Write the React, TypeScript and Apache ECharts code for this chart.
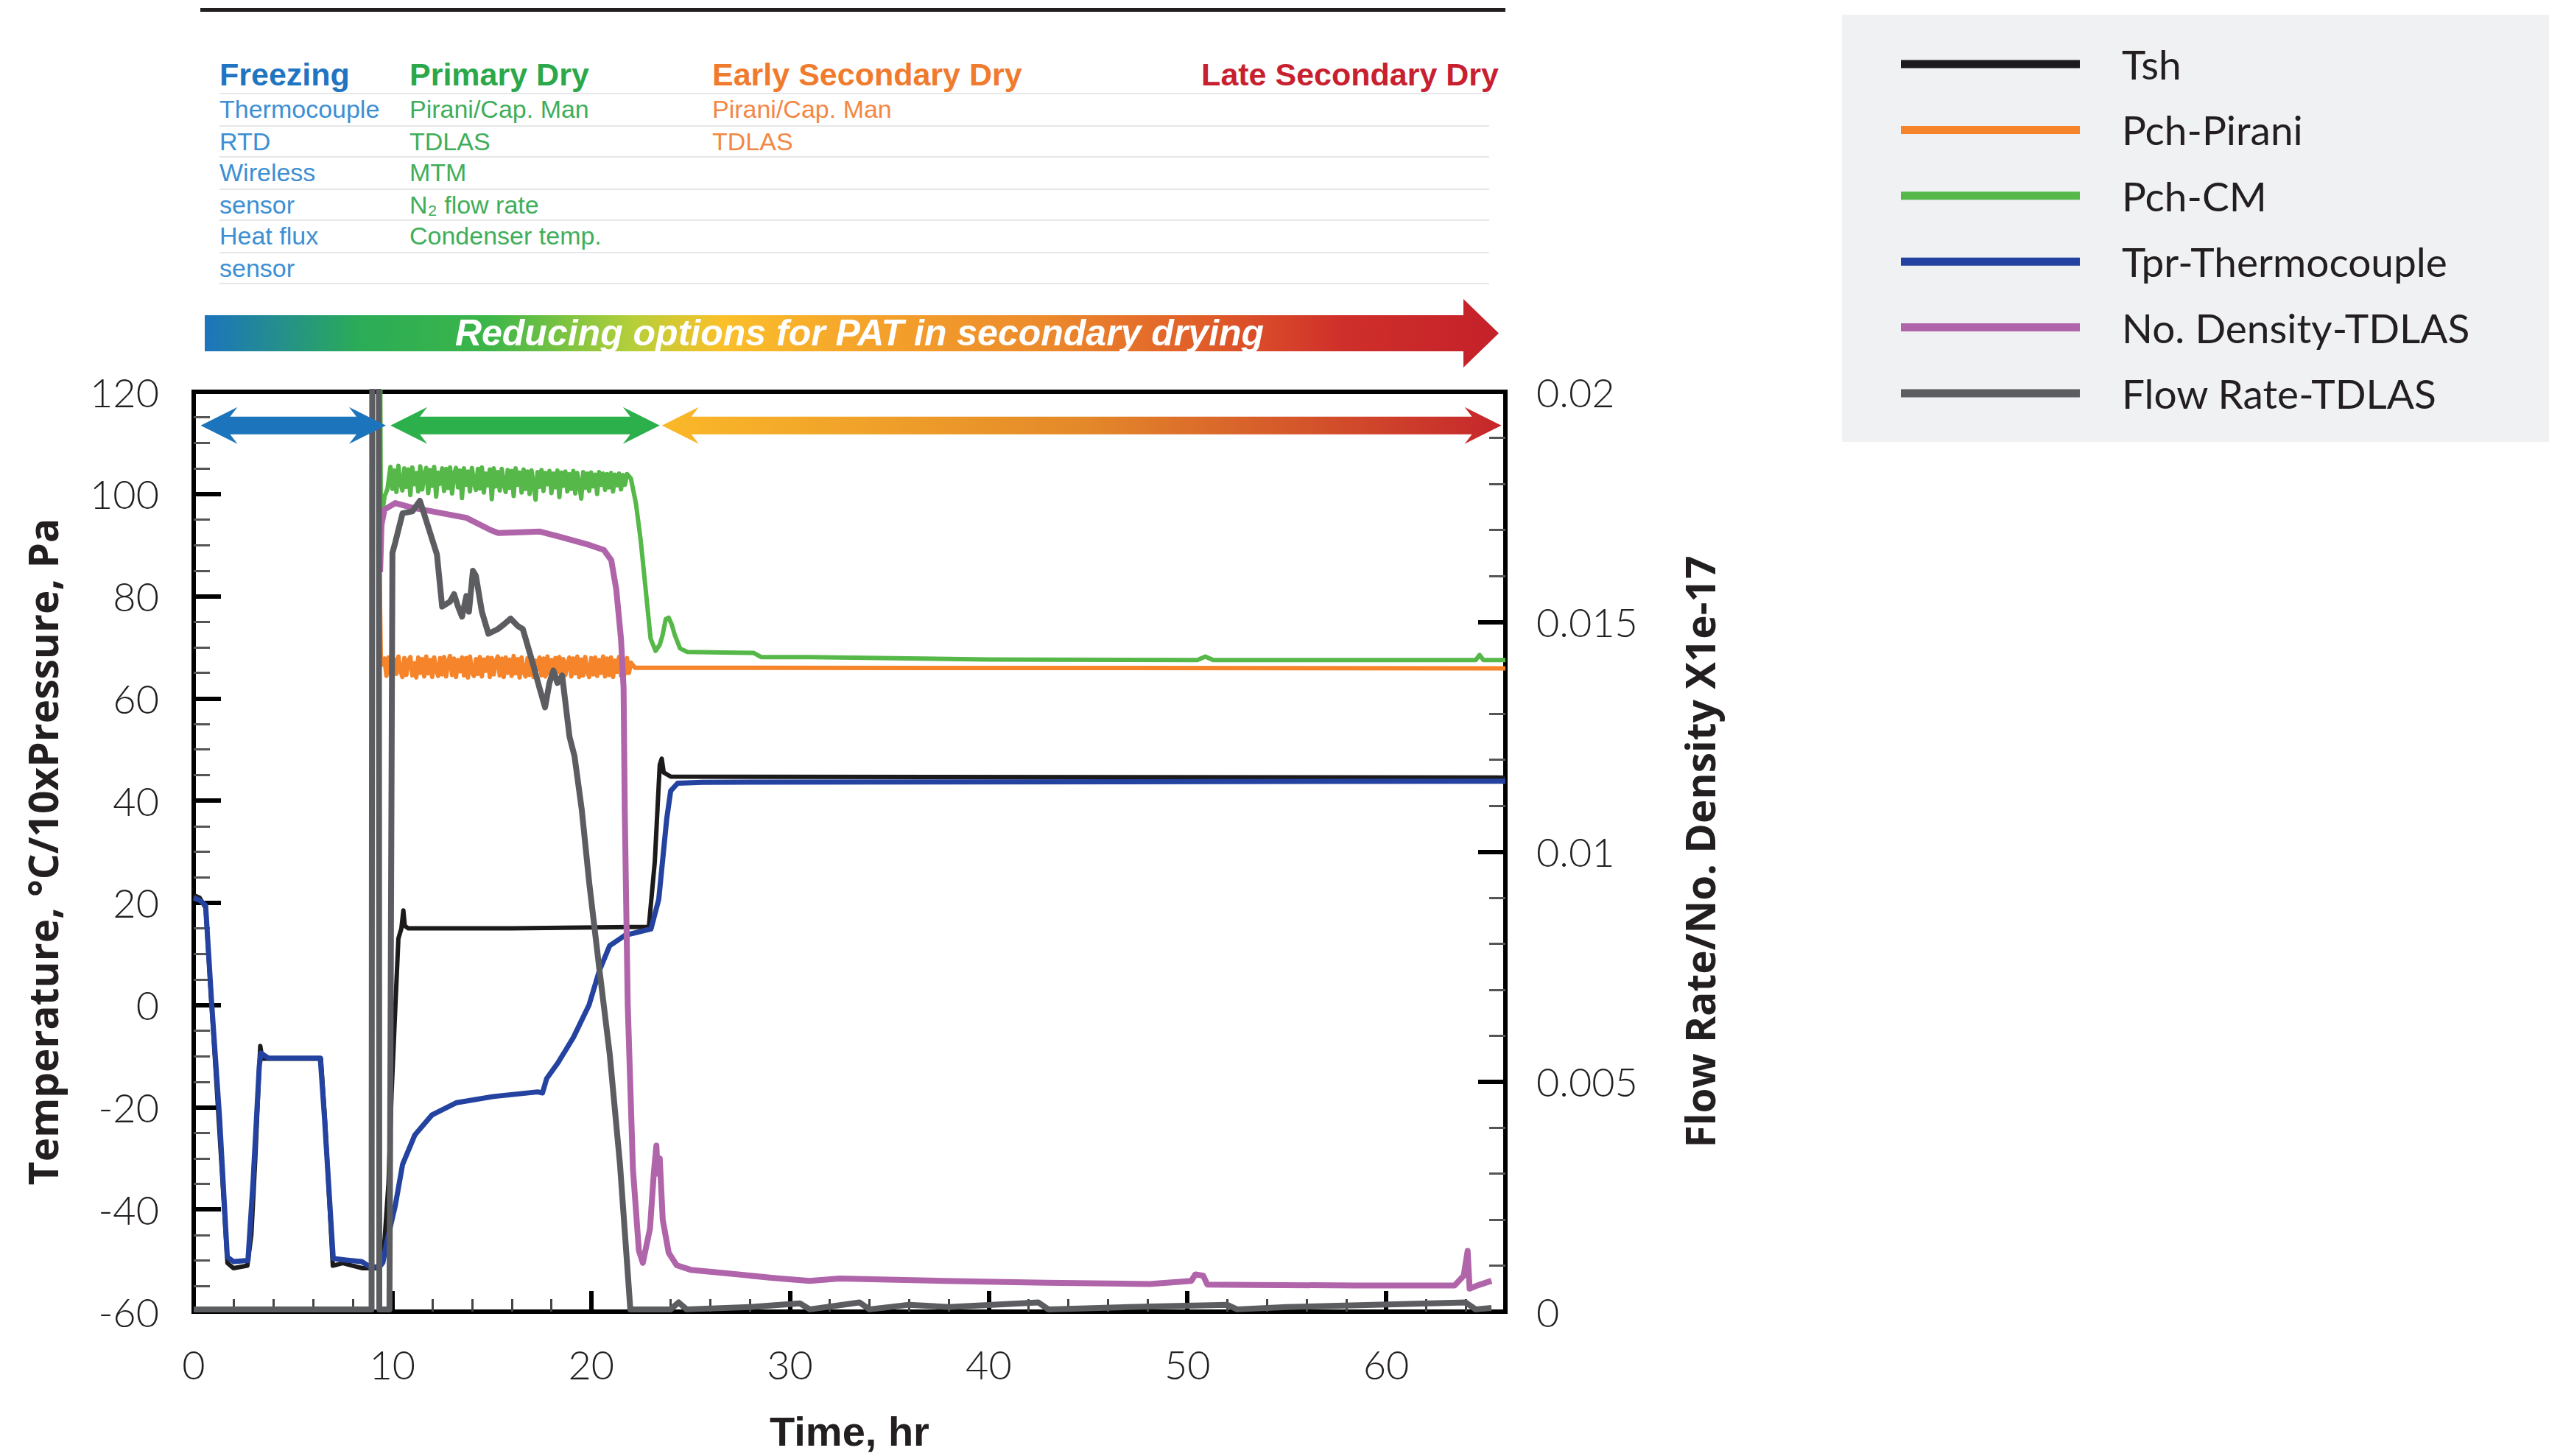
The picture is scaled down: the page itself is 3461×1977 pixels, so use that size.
import React, { useEffect, useRef } from "react";
import * as echarts from "echarts";

// ---------- series names & colours ----------
const seriesNames = ["Tsh", "Pch-Pirani", "Pch-CM", "Tpr-Thermocouple", "No. Density-TDLAS", "Flow Rate-TDLAS"];
const seriesColors = ["#1c1a1b", "#f5842a", "#55b848", "#2443a0", "#b064aa", "#5c5d60"];
const seriesWidths = [6, 6, 6, 7, 8, 8];

// ---------- axis ticks ----------
const xMajorTicks = [0, 10, 20, 30, 40, 50, 60];
const xMinorTicks = [2, 4, 6, 8, 12, 14, 16, 18, 22, 24, 26, 28, 32, 34, 36, 38, 42, 44, 46, 48, 52, 54, 56, 58, 62, 64];

// ---------- Tsh (left axis) ----------
const tshTime = [0, 0.3, 0.6, 0.9, 1.3, 1.7, 2.0, 2.7, 2.9, 3.1, 3.3, 3.35, 3.45, 6.4, 6.6, 7.0, 7.5, 8.0, 8.5, 9.3, 9.55, 9.8, 9.96, 10.15, 10.3, 10.45, 10.55, 10.62, 10.8, 16, 22.9, 23.2, 23.45, 23.55, 23.65, 24.0, 66];
const tshValue = [21.5, 21, 19, 0, -25, -50.5, -51.5, -51, -45, -30, -12, -8, -10.5, -10.5, -22, -51, -50.5, -51, -51.5, -51.5, -49, -35, -17, 0, 13, 15, 18.5, 15.5, 15, 15, 15.3, 28, 47, 48.2, 45.5, 44.7, 44.5];

// ---------- Tpr-Thermocouple (left axis) ----------
const tprTime = [0, 0.3, 0.6, 0.91, 1.3, 1.69, 2.0, 2.73, 2.99, 3.3, 3.38, 3.77, 6.37, 6.58, 7.02, 7.67, 8.45, 8.9, 9.36, 9.52, 9.71, 10.14, 10.51, 11.13, 11.99, 13.23, 15.08, 17.3, 17.55, 17.76, 18.33, 19.11, 19.89, 20.41, 20.93, 21.71, 23.01, 23.4, 23.8, 24.0, 24.35, 25.6, 66];
const tprValue = [21, 20.5, 19.5, 0, -22, -49.3, -50.2, -50, -34.4, -12, -9.4, -10.4, -10.4, -22, -49.6, -49.9, -50.2, -51.3, -51.2, -50.4, -46.5, -39.3, -31.2, -25.4, -21.5, -19.1, -17.9, -17.0, -17.2, -14.4, -11.3, -6.3, 0, 6.7, 11.6, 13.65, 14.9, 20.7, 36.4, 41.9, 43.4, 43.6, 43.8];

// ---------- Pch-Pirani (left axis, 10 x Pa): noisy band in primary drying ----------
const piraniTime = [9.35, 9.42,
  9.6, 9.7, 9.8, 9.9, 10.0, 10.1, 10.2, 10.3, 10.4, 10.5,
  10.6, 10.7, 10.8, 10.9, 11.0, 11.1, 11.2, 11.3, 11.4, 11.5,
  11.6, 11.7, 11.8, 11.9, 12.0, 12.1, 12.2, 12.3, 12.4, 12.5,
  12.6, 12.7, 12.8, 12.9, 13.0, 13.1, 13.2, 13.3, 13.4, 13.5,
  13.6, 13.7, 13.8, 13.9, 14.0, 14.1, 14.2, 14.3, 14.4, 14.5,
  14.6, 14.7, 14.8, 14.9, 15.0, 15.1, 15.2, 15.3, 15.4, 15.5,
  15.6, 15.7, 15.8, 15.9, 16.0, 16.1, 16.2, 16.3, 16.4, 16.5,
  16.6, 16.7, 16.8, 16.9, 17.0, 17.1, 17.2, 17.3, 17.4, 17.5,
  17.6, 17.7, 17.8, 17.9, 18.0, 18.1, 18.2, 18.3, 18.4, 18.5,
  18.6, 18.7, 18.8, 18.9, 19.0, 19.1, 19.2, 19.3, 19.4, 19.5,
  19.6, 19.7, 19.8, 19.9, 20.0, 20.1, 20.2, 20.3, 20.4, 20.5,
  20.6, 20.7, 20.8, 20.9, 21.0, 21.1, 21.2, 21.3, 21.4, 21.5,
  21.6, 21.7, 21.8, 21.9, 22.0,
  22.2, 66];
const piraniValue = [85, 66.5,
  67.8, 64.4, 68.0, 65.2, 64.3, 67.6, 64.8, 68.2, 65.5, 64.2,
  67.9, 64.6, 67.4, 68.1, 64.5, 66.9, 64.1, 68.0, 65.0, 67.7,
  64.3, 68.2, 64.9, 67.5, 64.2, 68.0, 65.6, 64.4, 67.9, 64.7,
  68.1, 64.3, 67.2, 68.3, 64.6, 67.8, 64.2, 67.5, 65.3, 68.0,
  64.5, 67.9, 64.1, 68.2, 65.1, 64.4, 67.7, 64.8, 68.1, 64.3,
  67.6, 65.4, 68.0, 64.2, 67.9, 64.7, 67.3, 68.2, 64.5, 67.8,
  64.2, 68.0, 65.0, 67.6, 64.4, 68.3, 64.9, 67.7, 64.1, 68.0,
  65.2, 64.3, 67.9, 64.6, 68.1, 64.2, 67.4, 65.7, 68.0, 64.5,
  67.8, 64.3, 68.2, 64.8, 67.5, 64.1, 67.9, 65.1, 68.1, 64.4,
  67.7, 64.6, 66.8, 68.0, 64.3, 67.8, 64.9, 68.2, 64.2, 67.6,
  64.5, 68.1, 65.3, 64.2, 67.9, 64.7, 68.0, 64.4, 67.5, 65.0,
  68.2, 64.3, 67.8, 64.6, 68.0, 64.2, 67.4, 65.2, 68.1, 64.5,
  67.7, 64.8, 67.9, 65.0, 67.0,
  66.0, 65.9];

// ---------- Pch-CM (left axis, 10 x Pa); first point runs off the top ----------
const cmTime = [9.38, 9.42, 9.48, 9.6, 9.75,
  9.9, 10.0, 10.1, 10.2, 10.3, 10.4, 10.5, 10.6, 10.7, 10.8,
  10.9, 11.0, 11.1, 11.2, 11.3, 11.4, 11.5, 11.6, 11.7, 11.8,
  11.9, 12.0, 12.1, 12.2, 12.3, 12.4, 12.5, 12.6, 12.7, 12.8,
  12.9, 13.0, 13.1, 13.2, 13.3, 13.4, 13.5, 13.6, 13.7, 13.8,
  13.9, 14.0, 14.1, 14.2, 14.3, 14.4, 14.5, 14.6, 14.7, 14.8,
  14.9, 15.0, 15.1, 15.2, 15.3, 15.4, 15.5, 15.6, 15.7, 15.8,
  15.9, 16.0, 16.1, 16.2, 16.3, 16.4, 16.5, 16.6, 16.7, 16.8,
  16.9, 17.0, 17.1, 17.2, 17.3, 17.4, 17.5, 17.6, 17.7, 17.8,
  17.9, 18.0, 18.1, 18.2, 18.3, 18.4, 18.5, 18.6, 18.7, 18.8,
  18.9, 19.0, 19.1, 19.2, 19.3, 19.4, 19.5, 19.6, 19.7, 19.8,
  19.9, 20.0, 20.1, 20.2, 20.3, 20.4, 20.5, 20.6, 20.7, 20.8,
  20.9, 21.0, 21.1, 21.2, 21.3, 21.4, 21.5, 21.6, 21.7, 21.8,
  21.9, 22.0, 22.25, 22.49, 22.74, 22.99, 23.24, 23.45, 23.6, 23.75, 23.9, 24.05, 24.2, 24.47, 24.84, 28.18, 28.55, 31, 40, 50.5,
  50.9, 51.3, 64.5, 64.7, 64.9, 66];
const cmValue = [130, 90, 96, 99.5, 101,
  105.3, 101.0, 104.6, 100.4, 105.5, 102.2, 100.7, 105.0, 101.4, 104.8,
  99.8, 105.2, 101.9, 104.1, 100.5, 105.4, 100.9, 103.8, 105.1, 100.2,
  104.7, 101.6, 105.3, 99.5, 104.2, 102.0, 105.0, 100.6, 104.9, 101.2,
  105.2, 100.1, 103.9, 105.1, 101.3, 104.6, 99.2, 105.0, 101.8, 104.4,
  100.5, 105.1, 102.3, 100.8, 104.9, 101.1, 105.2, 100.3, 104.0, 101.7,
  104.8, 99.0, 105.0, 101.5, 104.3, 100.7, 104.9, 102.1, 100.4, 104.7,
  101.2, 104.5, 99.6, 105.0, 101.8, 104.2, 100.3, 104.8, 101.0, 104.4,
  100.0, 104.6, 102.0, 98.9, 104.3, 101.4, 104.7, 100.6, 104.1, 101.9,
  104.5, 100.2, 104.0, 101.3, 104.6, 99.4, 104.2, 101.6, 104.4, 100.5,
  103.9, 101.0, 104.5, 100.1, 104.1, 102.0, 99.1, 104.3, 101.2, 104.0,
  100.6, 104.2, 101.5, 103.8, 100.0, 104.3, 101.8, 104.0, 100.8, 103.9,
  101.3, 104.1, 100.5, 103.8, 101.7, 104.0, 100.9, 103.7, 101.8, 103.9,
  103.5, 103, 98.2, 91, 81.4, 71.7, 69.3, 70.5, 72.5, 75.5, 75.8, 74.5, 72.5, 69.8, 69.1, 68.9, 68.1, 68.1, 67.6, 67.5,
  68.2, 67.5, 67.5, 68.5, 67.5, 67.5];

// ---------- No. Density-TDLAS (right axis) ----------
const densityTime = [9.38, 9.45, 9.6, 10.14, 11.0, 12.49, 13.72, 14.96, 15.33, 17.43, 18.66, 19.9, 20.64, 21.01, 21.26, 21.5, 21.63, 21.69, 21.84, 22.1, 22.4, 22.6, 22.96, 23.15, 23.28, 23.35, 23.45, 23.6, 23.9, 24.3, 25, 26.65, 29.25, 31, 32.5, 37.7, 42.9, 48.1, 50.2, 50.4, 50.8, 51.0, 53.3, 58.5, 63.45, 63.9, 64.1, 64.2, 64.6, 65.3];
const densityValue = [0.01608, 0.01711, 0.01744, 0.01758, 0.01748, 0.01736, 0.01726, 0.01699, 0.01693, 0.01696, 0.01682, 0.01667, 0.01656, 0.01634, 0.01571, 0.01463, 0.01357, 0.0109, 0.00667, 0.00311, 0.00133, 0.00106, 0.00181, 0.003, 0.00361, 0.003, 0.00333, 0.002, 0.00128, 0.00101, 0.00091, 0.00084, 0.00073, 0.00067, 0.00072, 0.00067, 0.00063, 0.0006, 0.00067, 0.00081, 0.00078, 0.00059, 0.00058, 0.00057, 0.00057, 0.00078, 0.00132, 0.0005, 0.00057, 0.00067];

// ---------- Flow Rate-TDLAS (right axis); spike at 9-9.3 h runs off the top ----------
const flowTime = [0, 4, 8.95, 9.0, 9.3, 9.34, 9.85, 10.0, 10.14, 10.51, 11.0, 11.38, 11.62, 12.24, 12.5, 12.9, 13.1, 13.3, 13.5, 13.72, 13.85, 14.05, 14.2, 14.5, 14.83, 15.3, 15.6, 15.95, 16.3, 16.56, 17.06, 17.4, 17.68, 17.9, 18.1, 18.3, 18.54, 18.91, 19.16, 19.53, 19.9, 20.4, 20.93, 21.45, 21.85, 21.97, 24, 24.4, 24.8, 28, 30.5, 31, 33.5, 34, 36, 38, 42.5, 43, 47, 52, 52.5, 55, 64, 64.5, 65.3];
const flowValue = [0.00005, 0.00005, 0.00005, 0.03, 0.03, 0.00005, 0.00005, 0.0165, 0.01672, 0.01736, 0.0174, 0.01763, 0.01731, 0.01646, 0.01533, 0.01544, 0.0156, 0.01533, 0.01511, 0.01556, 0.01522, 0.01611, 0.016, 0.01522, 0.01474, 0.01484, 0.01494, 0.01507, 0.01491, 0.01484, 0.0141, 0.01356, 0.01314, 0.01367, 0.01394, 0.01367, 0.01383, 0.0125, 0.01208, 0.0109, 0.00933, 0.00749, 0.00561, 0.0032, 0.00078, 0.00005, 0.00005, 0.0002, 0.00005, 0.0001, 0.00018, 0.00005, 0.0002, 0.00005, 0.00015, 0.0001, 0.0002, 0.00005, 0.0001, 0.00015, 0.00005, 0.0001, 0.0002, 0.00005, 0.00008];

// ---------- phase arrows inside the plot (hours, left-axis level) ----------
const phaseStart = [0.35, 9.9, 23.56];
const phaseEnd = [9.67, 23.45, 65.8];
const phaseLevel = 113.4;

// ---------- header table ----------
const headerTitles = ["Freezing", "Primary Dry", "Early Secondary Dry", "Late Secondary Dry"];
const freezingTools = ["Thermocouple", "RTD", "Wireless", "sensor", "Heat flux", "sensor"];
const primaryTools = ["Pirani/Cap. Man", "TDLAS", "MTM", "N\u2082 flow rate", "Condenser temp."];
const earlySecondaryTools = ["Pirani/Cap. Man", "TDLAS"];
const bannerText = "Reducing options for PAT in secondary drying";

const leftAxisTitle = "Temperature, \u00B0C/10xPressure, Pa";
const rightAxisTitle = "Flow Rate/No. Density X1e-17";
const xAxisTitle = "Time, hr";

const zip = (t: number[], v: number[]) => t.map((x, i) => [x, v[i]]);

export default function App() {
  const ref = useRef<HTMLDivElement>(null);

  useEffect(() => {
    document.body.style.margin = "0";
    const chart = echarts.init(ref.current!, null, { renderer: "svg" });

    const labelFont = { fontFamily: "Lato", fontWeight: 300 as any, fontSize: 54, color: "#231f20" };
    const titleFont = { fontFamily: "Open Sans", fontWeight: "bold" as any, fontSize: 55, color: "#231f20" };

    const seriesData = [
      zip(tshTime, tshValue),
      zip(piraniTime, piraniValue),
      zip(cmTime, cmValue),
      zip(tprTime, tprValue),
      zip(densityTime, densityValue),
      zip(flowTime, flowValue),
    ];
    const yIdx = [0, 0, 0, 0, 1, 1];

    const option: any = {
      animation: false,
      backgroundColor: "#ffffff",
      grid: {
        left: 263, top: 532, width: 1781, height: 1249,
        show: true, borderColor: "#000", borderWidth: 6, backgroundColor: "transparent",
      },
      legend: {
        orient: "vertical", left: 2576, top: 52, itemWidth: 243, itemHeight: 11, itemGap: 29.4,
        icon: "rect", z: 5,
        textStyle: { fontFamily: "Lato", fontSize: 55, color: "#231f20", lineHeight: 60, padding: [0, 0, 0, 52] },
        data: seriesNames,
      },
      xAxis: [
        {
          type: "value", min: 0, max: 66, position: "bottom",
          axisLine: { show: true, onZero: false, lineStyle: { color: "#000", width: 6 } },
          axisTick: { show: true, inside: true, length: 28, lineStyle: { color: "#000", width: 6 }, customValues: xMajorTicks },
          axisLabel: { ...labelFont, margin: 44, customValues: xMajorTicks },
          splitLine: { show: false },
          name: xAxisTitle, nameLocation: "middle", nameGap: 134,
          nameTextStyle: { ...titleFont, fontFamily: "Liberation Sans", fontSize: 56 },
        },
        {
          type: "value", min: 0, max: 66, position: "bottom",
          axisLine: { show: false, onZero: false },
          axisTick: { show: true, inside: true, length: 17, lineStyle: { color: "#444", width: 3 }, customValues: xMinorTicks },
          axisLabel: { show: false },
          splitLine: { show: false },
        },
      ],
      yAxis: [
        {
          type: "value", min: -60, max: 120, interval: 20, position: "left",
          axisLine: { show: true, onZero: false, lineStyle: { color: "#000", width: 6 } },
          axisTick: { show: true, inside: true, length: 37, lineStyle: { color: "#000", width: 6 } },
          minorTick: { show: true, splitNumber: 4, length: 22, lineStyle: { color: "#555", width: 3 } },
          axisLabel: { ...labelFont, margin: 47 },
          splitLine: { show: false },
          name: leftAxisTitle, nameLocation: "middle", nameGap: 178, nameRotate: 90,
          nameTextStyle: titleFont,
        },
        {
          type: "value", min: 0, max: 0.02, interval: 0.005, position: "right",
          axisLine: { show: true, onZero: false, lineStyle: { color: "#000", width: 6 } },
          axisTick: { show: true, inside: true, length: 37, lineStyle: { color: "#000", width: 6 } },
          minorTick: { show: true, splitNumber: 5, length: 22, lineStyle: { color: "#555", width: 3 } },
          axisLabel: { ...labelFont, margin: 42 },
          splitLine: { show: false },
          name: rightAxisTitle, nameLocation: "middle", nameGap: 236, nameRotate: 90,
          nameTextStyle: titleFont,
        },
      ],
      series: seriesNames.map((name, i) => ({
        name,
        type: "line",
        xAxisIndex: 0,
        yAxisIndex: yIdx[i],
        data: seriesData[i],
        showSymbol: false,
        symbol: "none",
        clip: true,
        z: 2 + i,
        lineStyle: { color: seriesColors[i], width: seriesWidths[i], join: "round" },
        itemStyle: { color: seriesColors[i] },
      })),
    };

    chart.setOption(option);

    // ---------- graphics ----------
    const els: any[] = [];
    els.push({ type: "rect", z: 0, shape: { x: 2501, y: 20, width: 960, height: 580 }, style: { fill: "#f0f1f3" } });
    els.push({ type: "rect", z: 1, shape: { x: 272, y: 11, width: 1772, height: 5 }, style: { fill: "#231f20" } });

    const rowY = [148, 192, 234, 278, 320, 364];
    const sepY = [126, 170, 212, 256, 298, 342, 384];
    sepY.forEach((y) =>
      els.push({ type: "rect", z: 1, shape: { x: 298, y, width: 1724, height: 2 }, style: { fill: "#e6e7e8" } })
    );
    const colX = [298, 556, 967];
    const titleColors = ["#1f75c1", "#2aa84a", "#f07b2d", "#c8202f"];
    const rowColors = ["#3d8fd3", "#3fae5a", "#f38744"];
    headerTitles.forEach((t, i) => {
      const right = i === 3;
      els.push({
        type: "text", z: 2, x: right ? 2035 : colX[i], y: 101,
        style: {
          text: t, fill: titleColors[i], font: 'bold 43px "Liberation Sans", Arial, sans-serif',
          textAlign: right ? "right" : "left", textVerticalAlign: "middle", verticalAlign: "middle",
        },
      });
    });
    [freezingTools, primaryTools, earlySecondaryTools].forEach((list, c) => {
      list.forEach((t, r) => {
        els.push({
          type: "text", z: 2, x: colX[c], y: rowY[r],
          style: {
            text: t, fill: rowColors[c], font: '34px "Liberation Sans", Arial, sans-serif',
            textAlign: "left", textVerticalAlign: "middle", verticalAlign: "middle",
          },
        });
      });
    });

    els.push({
      type: "polygon", z: 1,
      shape: { points: [[278, 428], [1987, 428], [1987, 406], [2035, 452.5], [1987, 499], [1987, 477], [278, 477]] },
      style: {
        fill: new echarts.graphic.LinearGradient(0, 0, 1, 0, [
          { offset: 0, color: "#1d74bd" },
          { offset: 0.12, color: "#2bac57" },
          { offset: 0.22, color: "#3cb649" },
          { offset: 0.33, color: "#b5cf3a" },
          { offset: 0.4, color: "#fbc02a" },
          { offset: 0.5, color: "#f5a52b" },
          { offset: 0.65, color: "#ec8a2c" },
          { offset: 0.78, color: "#df5a29" },
          { offset: 0.88, color: "#cf2f2a" },
          { offset: 1, color: "#c4212a" },
        ]),
      },
    });
    els.push({
      type: "text", z: 2, x: 1167, y: 452,
      style: {
        text: bannerText, fill: "#ffffff", font: 'italic bold 50px "Liberation Sans", Arial, sans-serif',
        textAlign: "center", textVerticalAlign: "middle", verticalAlign: "middle",
      },
    });

    const phaseFills: any[] = [
      "#1c75bc",
      "#2cb04b",
      new echarts.graphic.LinearGradient(0, 0, 1, 0, [
        { offset: 0, color: "#fbb829" },
        { offset: 0.5, color: "#e4892a" },
        { offset: 1, color: "#c6262b" },
      ]),
    ];
    phaseStart.forEach((s, i) => {
      const a = chart.convertToPixel({ xAxisIndex: 0, yAxisIndex: 0 } as any, [s, phaseLevel]) as number[];
      const b = chart.convertToPixel({ xAxisIndex: 0, yAxisIndex: 0 } as any, [phaseEnd[i], phaseLevel]) as number[];
      const x1 = a[0], x2 = b[0], yc = a[1];
      const hl = 50, hh = 25, sh = 12, nl = 40;
      els.push({
        type: "polygon", z: 20,
        shape: {
          points: [
            [x1, yc], [x1 + hl, yc - hh], [x1 + nl, yc - sh], [x2 - nl, yc - sh], [x2 - hl, yc - hh],
            [x2, yc], [x2 - hl, yc + hh], [x2 - nl, yc + sh], [x1 + nl, yc + sh], [x1 + hl, yc + hh],
          ],
        },
        style: { fill: phaseFills[i] },
      });
    });

    chart.setOption({ graphic: { elements: els } });

    return () => chart.dispose();
  }, []);

  return <div ref={ref} style={{ width: 3461, height: 1977 }} />;
}
